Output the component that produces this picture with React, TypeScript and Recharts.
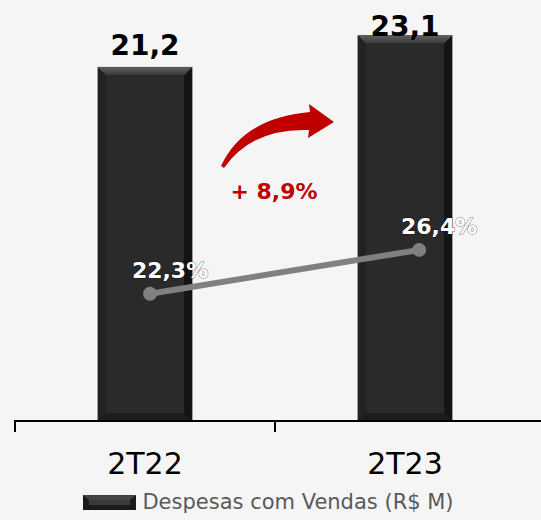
import { Bar, ComposedChart, Customized, LabelList, Legend, Line, XAxis, YAxis } from "recharts";

const categories = ["2T22", "2T23"];
const despesas = [21.2, 23.1];
const pctReceita = [22.3, 26.4];
const growthLabel = "+ 8,9%";
const seriesName = "Despesas com Vendas (R$ M)";

const data = categories.map((cat, i) => ({
  cat,
  pos: i,
  despesas: despesas[i],
  pct: pctReceita[i]
}));

const FONT = "'DejaVu Sans', sans-serif";
const fmt = (v: number) => v.toFixed(1).replace(".", ",");

function BevelBar(props: any) {
  const { x, y, width: w, height: h } = props;
  if (!h || h <= 0) return null;
  const b = 8;
  return (
    <g>
      <rect x={x} y={y} width={w} height={h} fill="#1a1a1a" stroke="#4a4a4a" strokeWidth={1} />
      <polygon points={`${x},${y} ${x + w},${y} ${x + w - b},${y + b} ${x + b},${y + b}`} fill="url(#topBevel)" />
      <polygon points={`${x},${y} ${x + b},${y + b} ${x + b},${y + h - b} ${x},${y + h}`} fill="#222" />
      <polygon points={`${x + w},${y} ${x + w - b},${y + b} ${x + w - b},${y + h - b} ${x + w},${y + h}`} fill="#141414" />
      <polygon points={`${x},${y + h} ${x + b},${y + h - b} ${x + w - b},${y + h - b} ${x + w},${y + h}`} fill="#1c1c1c" />
      <rect x={x + b} y={y + b} width={w - 2 * b} height={h - 2 * b} fill="#2a2a2a" />
    </g>
  );
}

function BarValue(props: any) {
  const { x, y, width, value } = props;
  return (
    <text x={x + width / 2} y={Math.max(y - 12, 36)} textAnchor="middle" fontFamily={FONT} fontWeight="bold" fontSize={28} fill="#000">
      {fmt(value)}
    </text>
  );
}

function PctValue(props: any) {
  const { x, y, value } = props;
  return (
    <text x={x + 20} y={y - 16} textAnchor="middle" fontFamily={FONT} fontWeight="bold" fontSize={22} fill="#fff"
      stroke="rgba(0,0,0,0.35)" strokeWidth={1.5} paintOrder="stroke">
      {fmt(value)}%
    </text>
  );
}

function CatTick(props: any) {
  const { x, y, payload } = props;
  const half = payload.offset || 130;
  return (
    <g>
      <line x1={x - half} x2={x - half} y1={y - 1} y2={y + 11} stroke="#000" strokeWidth={2} />
      <text x={x} y={y + 53} textAnchor="middle" fontFamily={FONT} fontSize={30} fill="#000">
        {payload.value}
      </text>
    </g>
  );
}

function GrowthArrow() {
  return (
    <g>
      <path d="M 221 166 Q 243 118 310 112 L 309 104 L 334 122 L 308 138 L 309 130 Q 252 128 224 168 Z" fill="#c00000" />
      <text x={274} y={199} textAnchor="middle" fontFamily={FONT} fontWeight="bold" fontSize={22} fill="#c00000">
        {growthLabel}
      </text>
    </g>
  );
}

function LegendContent() {
  return (
    <div style={{ display: "flex", justifyContent: "center", alignItems: "center", width: 541, paddingRight: 4, boxSizing: "border-box" }}>
      <svg width={53} height={15} style={{ marginRight: 6 }}>
        <rect x={0} y={0} width={53} height={15} fill="#1a1a1a" />
        <polygon points="0,0 53,0 47,5 6,5" fill="#444" />
        <rect x={6} y={5} width={41} height={5} fill="#3a3a3a" />
      </svg>
      <span style={{ fontFamily: FONT, fontSize: 21, color: "#595959" }}>{seriesName}</span>
    </div>
  );
}

export default function App() {
  return (
    <div style={{ position: "absolute", left: 0, top: 0, width: 541, height: 520, overflow: "hidden", background: "#f5f5f5" }}>
      <ComposedChart width={541} height={520} data={data} margin={{ top: 4, right: 0, left: 15, bottom: 0 }}>
        <defs>
          <linearGradient id="topBevel" x1="0" y1="0" x2="0" y2="1">
            <stop offset="0%" stopColor="#5e5e5e" />
            <stop offset="100%" stopColor="#383838" />
          </linearGradient>
        </defs>
        <XAxis xAxisId="cat" dataKey="cat" height={69} padding={{ left: 0, right: 6 }} tickSize={0} tickMargin={0} axisLine={{ stroke: "#000", strokeWidth: 2 }} tick={<CatTick />} interval={0} />
        <XAxis xAxisId="pos" dataKey="pos" type="number" domain={[-0.502, 1.453]} allowDataOverflow hide />
        <YAxis yAxisId="val" domain={[0, 25]} hide />
        <YAxis yAxisId="pct" orientation="right" domain={[10.4, 49.4]} allowDataOverflow hide />
        <Legend verticalAlign="bottom" height={30} content={<LegendContent />} wrapperStyle={{ left: 0, width: 541 }} />
        <Bar xAxisId="cat" yAxisId="val" dataKey="despesas" name={seriesName} barSize={94} shape={<BevelBar />} isAnimationActive={false}>
          <LabelList dataKey="despesas" content={<BarValue />} />
        </Bar>
        <Line xAxisId="pos" yAxisId="pct" dataKey="pct" stroke="#808080" strokeWidth={6} dot={{ r: 7, fill: "#808080", stroke: "none" }} activeDot={false} isAnimationActive={false} legendType="none">
          <LabelList dataKey="pct" content={<PctValue />} />
        </Line>
        <Customized component={GrowthArrow} />
      </ComposedChart>
    </div>
  );
}
